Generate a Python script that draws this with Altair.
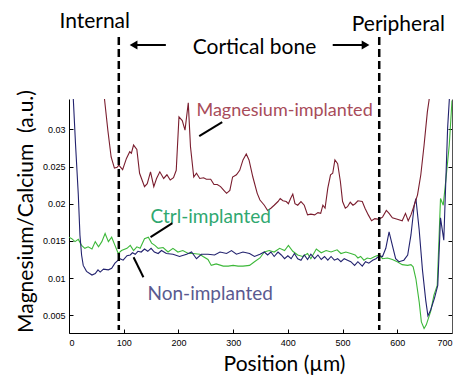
import altair as alt
import pandas as pd

# ---------------- data ----------------
mg_x = [62, 65, 71, 77, 83, 88, 91, 98, 105, 111, 114, 118, 124, 129, 138, 143, 149, 155, 160, 166,
        173, 179, 185, 191, 196, 201, 207, 212, 218, 222, 228, 233, 239, 246, 251, 259, 265, 271, 277,
        283, 288, 294, 299, 306, 312, 318, 324, 329, 336, 344, 349, 357, 363, 369, 375, 382, 386, 391,
        397, 401, 405, 409, 413, 418, 424, 430, 436, 442, 449, 455, 460, 464, 468, 473, 478, 482, 486,
        491, 496, 500, 505, 509, 514, 519, 523, 528, 536, 541, 547, 553, 559, 566, 573, 580, 585, 591,
        600, 609, 615, 620, 625, 631, 637, 643, 649, 655, 658, 661]
mg_y = [0.0365, 0.0340, 0.0299, 0.0263, 0.0248, 0.0249, 0.0252, 0.0246, 0.0261, 0.0270, 0.0268, 0.0279,
        0.0273, 0.0241, 0.0223, 0.0227, 0.0243, 0.0223, 0.0234, 0.0243, 0.0234, 0.0239, 0.0232, 0.0235,
        0.0245, 0.0317, 0.0312, 0.0299, 0.0336, 0.0277, 0.0236, 0.0241, 0.0234, 0.0235, 0.0233, 0.0233,
        0.0226, 0.0226, 0.0223, 0.0218, 0.0214, 0.0218, 0.0236, 0.0239, 0.0245, 0.0259, 0.0267, 0.0259,
        0.0236, 0.0214, 0.0205, 0.0198, 0.0191, 0.0194, 0.0198, 0.0203, 0.0207, 0.0204, 0.0203, 0.0200,
        0.0207, 0.0213, 0.0200, 0.0198, 0.0203, 0.0198, 0.0185, 0.0186, 0.0185, 0.0188, 0.0187, 0.0198,
        0.0194, 0.0221, 0.0239, 0.0241, 0.0259, 0.0254, 0.0230, 0.0203, 0.0194, 0.0196, 0.0202, 0.0198,
        0.0200, 0.0204, 0.0203, 0.0194, 0.0185, 0.0177, 0.0180, 0.0179, 0.0182, 0.0191, 0.0187, 0.0181,
        0.0179, 0.0177, 0.0187, 0.0177, 0.0185, 0.0198, 0.0212, 0.0239, 0.0279, 0.0324, 0.0339, 0.0360]

non_x = [6, 8, 12, 17, 20, 23, 26, 32, 42, 48, 53, 57, 63, 72, 78, 84, 93, 99, 106, 112, 116, 121, 126,
         132, 138, 144, 150, 156, 163, 169, 178, 190, 202, 215, 224, 233, 242, 254, 266, 276, 288, 297,
         306, 318, 330, 339, 349, 357, 363, 369, 375, 382, 388, 394, 400, 406, 412, 418, 424, 430, 436,
         442, 449, 455, 461, 467, 473, 479, 485, 491, 497, 503, 509, 515, 522, 528, 536, 542, 548, 555,
         561, 567, 573, 579, 585, 591, 597, 603, 612, 619, 625, 631, 634, 640, 646, 652, 656, 661, 668,
         674, 679, 685, 692, 695, 697]
non_y = [0.0368, 0.0339, 0.0279, 0.0212, 0.0158, 0.0131, 0.0117, 0.0109, 0.0104, 0.0106, 0.0111, 0.0108,
         0.0112, 0.0111, 0.0113, 0.0120, 0.0126, 0.0124, 0.0130, 0.0131, 0.0134, 0.0132, 0.0136, 0.0135,
         0.0139, 0.0136, 0.0140, 0.0135, 0.0133, 0.0137, 0.0133, 0.0132, 0.0129, 0.0132, 0.0135, 0.0126,
         0.0132, 0.0132, 0.0131, 0.0135, 0.0133, 0.0137, 0.0132, 0.0135, 0.0133, 0.0129, 0.0132, 0.0135,
         0.0131, 0.0135, 0.0129, 0.0135, 0.0131, 0.0126, 0.0130, 0.0126, 0.0133, 0.0126, 0.0124, 0.0131,
         0.0125, 0.0132, 0.0126, 0.0131, 0.0125, 0.0129, 0.0124, 0.0129, 0.0124, 0.0126, 0.0122, 0.0126,
         0.0124, 0.0122, 0.0117, 0.0122, 0.0116, 0.0122, 0.0120, 0.0124, 0.0126, 0.0130, 0.0129, 0.0140,
         0.0162, 0.0144, 0.0126, 0.0122, 0.0124, 0.0131, 0.0158, 0.0198, 0.0207, 0.0165, 0.0111, 0.0070,
         0.0049, 0.0057, 0.0073, 0.0090, 0.0181, 0.0151, 0.0302, 0.0339, 0.0366]

ctrl_x = [0, 5, 11, 17, 23, 29, 35, 42, 48, 54, 60, 66, 72, 78, 84, 90, 96, 106, 112, 118, 124, 130, 138,
          145, 151, 157, 163, 172, 181, 190, 199, 208, 218, 227, 239, 245, 254, 260, 269, 282, 291, 300,
          309, 318, 330, 339, 349, 357, 366, 375, 385, 394, 401, 409, 418, 427, 436, 442, 452, 461, 470,
          479, 490, 497, 506, 515, 523, 528, 533, 539, 545, 551, 559, 567, 573, 582, 591, 600, 609, 619,
          625, 629, 634, 640, 644, 649, 653, 661, 667, 673, 679, 684, 689, 695, 700]
ctrl_y = [0.0155, 0.0153, 0.0149, 0.0152, 0.0144, 0.0140, 0.0142, 0.0139, 0.0149, 0.0142, 0.0149, 0.0160,
          0.0149, 0.0155, 0.0144, 0.0133, 0.0137, 0.0140, 0.0144, 0.0137, 0.0142, 0.0140, 0.0153, 0.0155,
          0.0147, 0.0144, 0.0140, 0.0141, 0.0135, 0.0140, 0.0135, 0.0137, 0.0133, 0.0133, 0.0132, 0.0129,
          0.0125, 0.0117, 0.0119, 0.0116, 0.0116, 0.0117, 0.0116, 0.0116, 0.0117, 0.0122, 0.0127, 0.0135,
          0.0137, 0.0135, 0.0140, 0.0137, 0.0144, 0.0136, 0.0131, 0.0129, 0.0133, 0.0126, 0.0139, 0.0134,
          0.0137, 0.0135, 0.0138, 0.0133, 0.0135, 0.0133, 0.0131, 0.0127, 0.0129, 0.0124, 0.0127, 0.0126,
          0.0129, 0.0131, 0.0126, 0.0127, 0.0125, 0.0122, 0.0118, 0.0117, 0.0118, 0.0115, 0.0099, 0.0068,
          0.0041, 0.0032, 0.0037, 0.0055, 0.0077, 0.0090, 0.0207, 0.0198, 0.0234, 0.0279, 0.0339]

series_names = ["Ctrl-implanted", "Non-implanted", "Magnesium-implanted"]
line_colors = ["#3db83a", "#22226e", "#7a1d2e"]

x_ticks = [0, 100, 200, 300, 400, 500, 600, 700]
y_ticks = [0.005, 0.01, 0.015, 0.02, 0.025, 0.03]
x_domain = [0, 700]
y_domain = [0.0026, 0.0341]

boundaries = [91, 567]

# in-plot labels (data coordinates)
label_text = ["Magnesium-implanted", "Ctrl-implanted", "Non-implanted"]
label_x = [394, 259, 258]
label_y = [0.0325, 0.0182, 0.0079]
label_colors = ["#a84c5a", "#2fa870", "#5a5a90"]
label_sizes = [18, 19, 19]

# pointer lines from labels to curves
ptr_x = [238, 149, 118]
ptr_y = [0.0291, 0.0155, 0.0128]
ptr_x2 = [280, 189, 136]
ptr_y2 = [0.0310, 0.0174, 0.0101]

# header annotations above the plot
header_text = ["Internal", "Cortical bone", "Peripheral"]
header_x = [47, 339, 602]

# ---------------- chart ----------------
lines = pd.concat([
    pd.DataFrame({"x": ctrl_x, "y": ctrl_y, "series": series_names[0]}),
    pd.DataFrame({"x": non_x, "y": non_y, "series": series_names[1]}),
    pd.DataFrame({"x": mg_x, "y": mg_y, "series": series_names[2]}),
], ignore_index=True)

W, H = 383, 234
xscale = alt.Scale(domain=x_domain, nice=False, zero=False)
yscale = alt.Scale(domain=y_domain, nice=False, zero=False)

xaxis = alt.Axis(values=x_ticks, title="Position (µm)", grid=False,
                 labelFont="Liberation Sans", labelFontSize=9, labelColor="black", labelPadding=9,
                 tickSize={"expr": "-4"}, tickColor="black", domainColor="black",
                 titleFont="Lato", titleFontSize=21, titleFontWeight="normal", titleColor="black",
                 titleX=215, titleY=37, titleBaseline="alphabetic", titleAlign="center")
yaxis_left = alt.Axis(values=y_ticks, format="~g", title="Magnesium/Calcium\u00a0 (a.u.)", grid=False,
                      labelFont="Liberation Sans", labelFontSize=9, labelColor="black", labelPadding=8,
                      tickSize={"expr": "-4"}, tickColor="black", domainColor="black",
                      titleFont="Lato", titleFontSize=21, titleFontWeight="normal", titleColor="black",
                      titleX=-43, titleY=112, titleAngle=270, titleBaseline="middle", titleAlign="center")
yaxis_right = alt.Axis(values=y_ticks, orient="right", labels=False, title=None, grid=False,
                       tickSize={"expr": "-4"}, tickColor="black", domainColor="#555555")

X = alt.X("x:Q", scale=xscale, axis=xaxis)

curve_layer = alt.Chart(lines).mark_line(clip=True, strokeWidth=1.1).encode(
    x=X,
    y=alt.Y("y:Q", scale=yscale, axis=yaxis_left),
    color=alt.Color("series:N", scale=alt.Scale(domain=series_names, range=line_colors), legend=None),
    detail="series:N",
)

right_axis_layer = alt.Chart(lines).mark_line(opacity=0).encode(
    x=X,
    y=alt.Y("y:Q", scale=yscale, axis=yaxis_right),
    detail="series:N",
)

dash_layer = alt.Chart(pd.DataFrame({"x": boundaries})).mark_rule(
    color="black", strokeWidth=2.5, strokeDash=[8, 4]
).encode(x=X, y=alt.value(-62), y2=alt.value(231))

labels_df = pd.DataFrame({"x": label_x, "y": label_y, "label": label_text,
                          "c": label_colors, "s": label_sizes})
label_layer = alt.Chart(labels_df).mark_text(font="Lato", align="center", baseline="middle").encode(
    x=X,
    y=alt.Y("y:Q", scale=yscale, axis=None),
    text="label:N",
    color=alt.Color("c:N", scale=None),
    size=alt.Size("s:Q", scale=None, legend=None),
)

ptr_df = pd.DataFrame({"x": ptr_x, "y": ptr_y, "x2": ptr_x2, "y2": ptr_y2})
ptr_layer = alt.Chart(ptr_df).mark_rule(color="black", strokeWidth=2).encode(
    x=X, x2="x2:Q",
    y=alt.Y("y:Q", scale=yscale, axis=None), y2="y2:Q",
)

header_y = [-77, -51, -74]
header_layers = []
for t, hx, hy in zip(header_text, header_x, header_y):
    header_layers.append(
        alt.Chart(pd.DataFrame({"x": [hx], "label": [t]})).mark_text(
            font="Lato", fontSize=21, color="black", align="center", baseline="middle"
        ).encode(x=X, y=alt.value(hy), text="label:N")
    )

# arrows: shafts and heads
arrow_df = pd.DataFrame({"x": [118, 482], "x2": [177, 542]})
arrow_shaft = alt.Chart(arrow_df).mark_rule(color="black", strokeWidth=2).encode(
    x=X, x2="x2:Q", y=alt.value(-54)
)
arrow_left = alt.Chart(pd.DataFrame({"x": [118]})).mark_point(
    shape="triangle-left", filled=True, size=80, color="black", opacity=1
).encode(x=X, y=alt.value(-54))
arrow_right = alt.Chart(pd.DataFrame({"x": [542]})).mark_point(
    shape="triangle-right", filled=True, size=80, color="black", opacity=1
).encode(x=X, y=alt.value(-54))

chart = alt.layer(
    curve_layer, right_axis_layer, dash_layer, label_layer, ptr_layer,
    *header_layers, arrow_shaft, arrow_left, arrow_right
).resolve_axis(y="independent").properties(
    width=W, height=H,
    autosize=alt.AutoSizeParams(type="none"),
    padding={"left": 61, "top": 91, "right": 4, "bottom": 48},
    background="white",
).configure_view(stroke=None)

chart.save("out.html", embed_options={"renderer": "svg", "actions": False})
